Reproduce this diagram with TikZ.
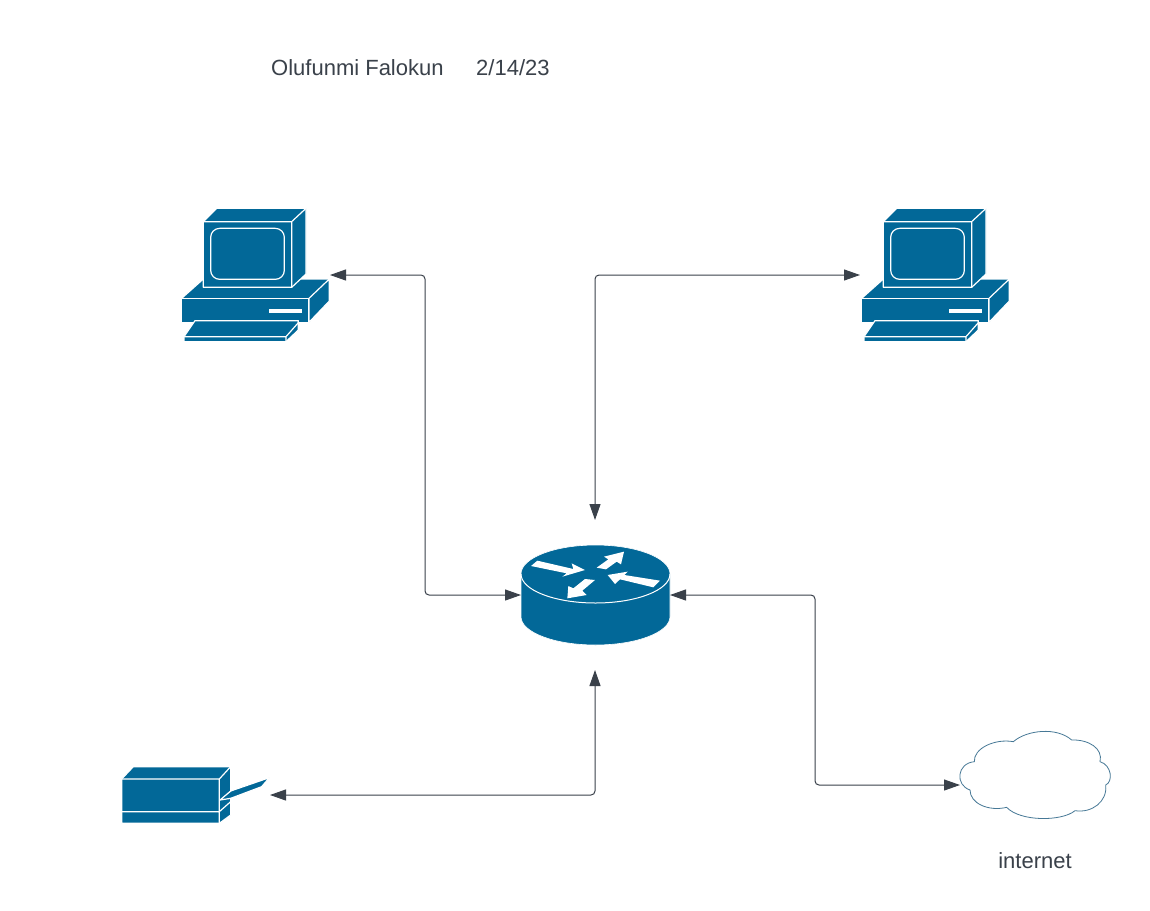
\documentclass[tikz,border=0pt]{standalone}
\usepackage{fontspec}
\setmainfont{Liberation Sans}
\usetikzlibrary{arrows.meta}
\definecolor{icon}{RGB}{2,104,152}
\definecolor{ink}{RGB}{58,65,74}
\definecolor{cloudline}{RGB}{70,120,150}
\tikzset{
  link/.style={draw=ink,line width=1pt,rounded corners=4pt,{Triangle[length=16pt,width=11pt,fill=ink]}-{Triangle[length=16pt,width=11pt,fill=ink]}},
  label/.style={text=ink,font=\fontsize{22}{26}\selectfont,inner sep=0pt},
  solid part/.style={fill=icon,draw=white,line width=1.2pt,line join=round},
  white part/.style={fill=white,draw=none},
  white line/.style={draw=white,line width=1.2pt},
  pics/computer/.style={code={
    \begin{scope}[scale=1/3]
      \path[solid part] (35,295)--(100,237)--(478,237)--(478,303)--(417,367)--(35,367)--cycle;
      \path[solid part] (35,295)--(417,295)--(417,367)--(35,367)--cycle;
      \path[solid part] (417,295)--(478,237)--(478,303)--(417,367)--cycle;
      \path[white part] (298,328) rectangle (397,340);
      \path[solid part] (75,362)--(385,362)--(385,390)--(348,425)--(42,425)--(42,410)--cycle;
      \draw[white line] (42,410)--(348,410)--(385,368) (348,410)--(348,425);
      \path[solid part] (140,25)--(408,25)--(408,222)--(365,262)--(100,262)--(100,65)--cycle;
      \draw[white line] (100,65)--(365,65)--(408,25) (365,65)--(365,262);
      \draw[white line,rounded corners=9pt] (122,85) rectangle (343,238);
    \end{scope}
  }},
}
\begin{document}
\begin{tikzpicture}[x=1pt,y=-1pt]
\useasboundingbox[fill=white] (0,0) rectangle (1150,910);

% title
\node[label,anchor=base west] (author) at (271,75) {Olufunmi Falokun};
\node[label,anchor=base west] (date) at (476,75) {2/14/23};

% computers
\pic at (170,200) {computer};
\pic at (850,200) {computer};

% router
\begin{scope}[shift={(505,530)},scale=1/3]
  \path[fill=icon,draw=white,line width=0.6pt] (48,132) -- (48,260) arc[x radius=223.5,y radius=85,start angle=180,end angle=0] -- (495,132) arc[x radius=223.5,y radius=87,start angle=0,end angle=-180] -- cycle;
  \draw[white,line width=1pt] (48,132) arc[x radius=223.5,y radius=87,start angle=180,end angle=0];
  \path[white part] (97,92)--(205,117)--(200,100)--(240,120)--(172,140)--(185,130)--(78,108)--cycle;
  \path[white part] (357,65)--(297,80)--(310,88)--(275,113)--(303,118)--(335,95)--(348,103)--cycle;
  \path[white part] (240,147)--(270,150)--(232,182)--(245,195)--(187,205)--(190,168)--(205,175)--cycle;
  \path[white part] (308,135)--(368,125)--(358,135)--(465,152)--(445,172)--(345,148)--(330,162)--cycle;
\end{scope}

% printer
\begin{scope}[shift={(110,755)},scale=1/3]
  \path[solid part] (333,130)--(362,108)--(478,68)--(455,95)--(362,130)--(333,142)--cycle;
  \path[solid part] (35,72)--(70,35)--(362,35)--(362,108)--(330,135)--(362,130)--(362,180)--(328,205)--(35,205)--cycle;
  \draw[white line] (35,72)--(328,72)--(362,35) (328,72)--(328,205) (35,170)--(328,170)--(362,140);
\end{scope}

% cloud
\begin{scope}[shift={(945,720)},scale=1/3]
  \draw[cloudline,line width=0.8pt,fill=white]
    (88,125) .. controls (85,85) and (150,55) .. (205,65)
    .. controls (245,30) and (335,20) .. (380,60)
    .. controls (430,58) and (475,85) .. (465,125)
    .. controls (500,135) and (505,185) .. (482,195)
    .. controls (488,245) and (440,280) .. (390,272)
    .. controls (350,305) and (225,305) .. (185,262)
    .. controls (130,275) and (75,250) .. (75,210)
    .. controls (30,195) and (35,130) .. (88,125) -- cycle;
\end{scope}
\node[label,anchor=base] (internet) at (1035,868) {internet};

% connector ends
\coordinate (pcA) at (330,275);
\coordinate (pcB) at (860,275);
\coordinate (rTop) at (595,520);
\coordinate (rLeft) at (521,595);
\coordinate (rRight) at (670,595);
\coordinate (rBottom) at (595,670);
\coordinate (prn) at (270,795);
\coordinate (cld) at (960,785);

\draw[link] (pcA) -| (425,595) -- (rLeft);
\draw[link] (rTop) |- (pcB);
\draw[link] (rRight) -| (815,785) -- (cld);
\draw[link] (rBottom) |- (prn);
\end{tikzpicture}
\end{document}
